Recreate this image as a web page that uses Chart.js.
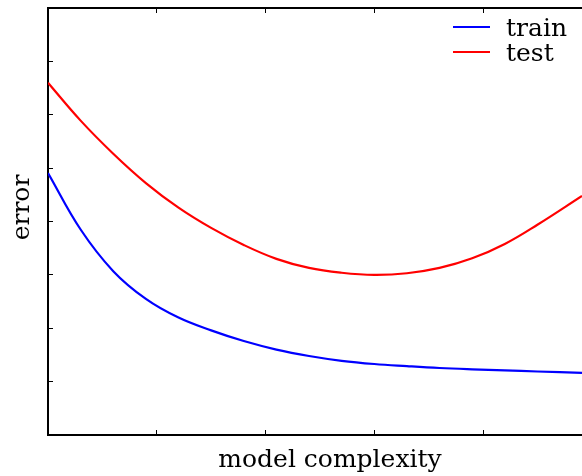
<!DOCTYPE html>
<html>
<head>
<meta charset="utf-8">
<script src="https://cdn.jsdelivr.net/npm/chart.js@4.4.0/dist/chart.umd.min.js"></script>
<style>
  html, body { margin: 0; padding: 0; background: #fff; overflow: hidden; }
</style>
</head>
<body>
<canvas id="myChart" width="582" height="476"></canvas>
<script>
  // model complexity (x) and the two error curves
  const complexity = [0, 0.3, 0.6, 0.9, 1.2, 1.5, 1.8, 2.1, 2.4, 2.7, 3.0, 3.3, 3.6, 3.9, 4.2, 4.5, 4.91]
  const trainError = [4.91, 3.85, 3.07, 2.55, 2.20, 1.96, 1.76, 1.60, 1.48, 1.39, 1.33, 1.29, 1.255, 1.23, 1.21, 1.19, 1.165]
  const testError = [6.60, 5.89, 5.27, 4.72, 4.26, 3.88, 3.56, 3.30, 3.13, 3.04, 3.00, 3.03, 3.13, 3.31, 3.58, 3.94, 4.48]
  const seriesLabels = ['train', 'test']
  const xTicks = [1, 2, 3, 4]
  const yTicks = [1, 2, 3, 4, 5, 6, 7]
  const xTitle = 'model complexity'
  const yTitle = 'error'

  const serifFont = '25px "DejaVu Serif"'

  function points(values) {
    return complexity.map((x, i) => ({ x: x, y: values[i] }))
  }

  // legend inside the plot (top right) and the two axis titles,
  // placed a little off-centre like in the original figure
  const decorations = {
    id: 'decorations',
    afterDraw(chart) {
      const { ctx, chartArea } = chart
      ctx.save()
      ctx.font = serifFont
      ctx.fillStyle = '#000'
      ctx.textBaseline = 'alphabetic'

      chart.data.datasets.forEach((ds, i) => {
        const y = chartArea.top + 19 + i * 25
        const x0 = chartArea.right - 129
        ctx.strokeStyle = ds.borderColor
        ctx.lineWidth = 2
        ctx.beginPath()
        ctx.moveTo(x0, y)
        ctx.lineTo(x0 + 37, y)
        ctx.stroke()
        ctx.textAlign = 'left'
        ctx.fillText(ds.label, x0 + 53, y + 9)
      })

      ctx.textAlign = 'center'
      ctx.fillText(xTitle, (chartArea.left + chartArea.right) / 2 + 15, chartArea.bottom + 32)

      ctx.translate(chartArea.left - 19, (chartArea.top + chartArea.bottom) / 2 - 14)
      ctx.rotate(-Math.PI / 2)
      ctx.fillText(yTitle, 0, 0)
      ctx.restore()
    }
  }

  function keepTicks(list) {
    return (scale) => {
      scale.ticks = scale.ticks.filter(t => list.includes(t.value))
    }
  }

  const tickGrid = {
    drawOnChartArea: false,
    drawTicks: true,
    tickLength: -5,
    color: '#000',
    lineWidth: 1
  }

  const lineStyle = {
    backgroundColor: 'transparent',
    borderWidth: 2.2,
    pointRadius: 0,
    tension: 0.4
  }

  const ctx = document.getElementById('myChart')
  const myChart = new Chart(ctx, {
    type: 'line',
    data: {
      datasets: [
        Object.assign({ label: seriesLabels[0], data: points(trainError), borderColor: '#0000ff' }, lineStyle),
        Object.assign({ label: seriesLabels[1], data: points(testError), borderColor: '#ff0000' }, lineStyle)
      ]
    },
    options: {
      responsive: false,
      animation: false,
      layout: { padding: 0 },
      plugins: {
        legend: { display: false },
        tooltip: { enabled: false }
      },
      scales: {
        x: {
          type: 'linear',
          position: 'bottom',
          min: 0,
          max: 4.91,
          border: { color: '#000', width: 2 },
          grid: tickGrid,
          ticks: { stepSize: 1, display: false },
          afterBuildTicks: keepTicks(xTicks),
          afterFit: (scale) => { scale.height = 41 }
        },
        x2: {
          type: 'linear',
          position: 'top',
          min: 0,
          max: 4.91,
          border: { color: '#000', width: 2 },
          grid: tickGrid,
          ticks: { stepSize: 1, display: false },
          afterBuildTicks: keepTicks(xTicks),
          afterFit: (scale) => { scale.height = 8 }
        },
        y: {
          min: 0,
          max: 8,
          border: { color: '#000', width: 2 },
          grid: tickGrid,
          ticks: { stepSize: 1, display: false },
          afterBuildTicks: keepTicks(yTicks),
          afterFit: (scale) => { scale.width = 48 }
        }
      }
    },
    plugins: [decorations]
  })
</script>
</body>
</html>
